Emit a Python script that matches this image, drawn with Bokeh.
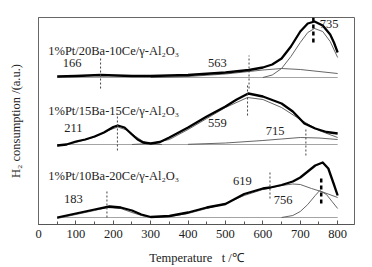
from bokeh.plotting import figure
from bokeh.models import Range1d, SingleIntervalTicker, FixedTicker
from bokeh.core.properties import value
from bokeh.embed import file_html
from bokeh.resources import INLINE

FONT = "Liberation Serif"

# ---------------- data (temperature in °C, H2 consumption in a.u.) ----------------
sample_names = ["1%Pt/20Ba-10Ce/γ-Al₂O₃", "1%Pt/15Ba-15Ce/γ-Al₂O₃", "1%Pt/10Ba-20Ce/γ-Al₂O₃"]

# 1%Pt/20Ba-10Ce (top)
t_top = [50, 100, 166, 250, 300, 400, 500, 563, 600, 625, 650, 675, 700, 720, 738, 760, 780, 790, 800]
h_top = [148, 148.5, 149.5, 148.5, 148.5, 149.5, 152, 154.5, 157, 160, 166, 178, 193, 201, 203, 199, 190, 182, 172]
base_top = 147
t_top_c1 = [300, 400, 500, 563, 600, 650, 700, 750, 800]
h_top_c1 = [147, 148, 150.5, 153, 154.5, 156, 155, 153, 151]
t_top_c2 = [600, 625, 650, 675, 700, 720, 738, 760, 780, 800]
h_top_c2 = [147, 149.5, 156, 168, 182, 192, 196, 193, 183, 167]
peaks_top = [166, 563, 735]

# 1%Pt/15Ba-15Ce (middle)
t_mid = [50, 75, 100, 125, 150, 175, 200, 212, 230, 250, 265, 280, 300, 325, 350, 400, 450, 500, 530, 561, 600, 650, 680, 711, 740, 770, 800]
h_mid = [79, 80, 83, 85, 88, 92, 97.5, 99, 97, 90, 85, 82, 81, 82.5, 87, 97, 108, 118, 125, 131, 128, 121, 113, 101, 96, 92.5, 91]
base_mid = 80
t_mid_c1 = [50, 100, 150, 190, 212, 240, 260, 280, 300, 330]
h_mid_c1 = [78.5, 82, 87.5, 94.5, 97.5, 94, 88, 83, 80.5, 80]
t_mid_c2 = [250, 300, 350, 400, 450, 500, 559, 600, 650, 700, 750, 800]
h_mid_c2 = [80, 81, 85, 95, 106, 117, 127, 125, 117, 105, 94, 87]
t_mid_c3 = [400, 500, 600, 650, 700, 750, 800]
h_mid_c3 = [80.2, 81.5, 84, 85.5, 87, 86.5, 85]
peaks_mid = [211, 559, 715]

# 1%Pt/10Ba-20Ce (bottom)
t_bot = [50, 100, 150, 190, 220, 250, 275, 300, 350, 400, 450, 500, 550, 600, 620, 650, 680, 700, 720, 740, 760, 775, 790, 800]
h_bot = [7, 11, 15, 18, 17, 14, 10, 7.5, 8.5, 12, 17, 20.5, 30.5, 36, 37, 39.5, 43, 47, 53, 59, 62, 56, 40, 29]
base_bot = 7
t_bot_c1 = [50, 100, 150, 183, 220, 250, 280, 310]
h_bot_c1 = [6, 10, 14, 17, 16, 12, 8.5, 7]
t_bot_c2 = [300, 350, 400, 450, 500, 550, 600, 650, 680, 700, 730, 760, 800]
h_bot_c2 = [7, 8, 11, 16, 21, 29, 35, 39, 40.5, 40, 36, 32.5, 27]
t_bot_c3 = [650, 680, 700, 720, 740, 752, 770, 785, 800]
h_bot_c3 = [7, 9, 13, 20, 29, 34, 30, 23, 16]
peaks_bot = [183, 619, 756]

x_ticks_interval = 100

# ---------------- figure ----------------
p = figure(width=372, height=267, output_backend="svg", toolbar_location=None,
           x_range=Range1d(0, 845), y_range=Range1d(0, 207),
           min_border_left=38, min_border_right=18, min_border_top=17, min_border_bottom=43)
p.background_fill_color = "white"
p.border_fill_color = "white"
p.outline_line_color = "#666666"
p.outline_line_width = 1
p.grid.visible = False

p.xaxis.ticker = SingleIntervalTicker(interval=x_ticks_interval, num_minor_ticks=2)
p.xaxis.major_tick_in = 4
p.xaxis.major_tick_out = 0
p.xaxis.minor_tick_in = 3
p.xaxis.minor_tick_out = 0
p.xaxis.axis_line_color = "#555555"
p.xaxis.major_tick_line_color = "#555555"
p.xaxis.minor_tick_line_color = "#555555"
p.xaxis.major_label_text_font = FONT
p.xaxis.major_label_text_font_size = "12.5px"
p.xaxis.major_label_text_color = "#222222"
p.xaxis.major_label_standoff = 5
p.xaxis.axis_label = "Temperature\u00a0\u00a0\u00a0t\u00a0/℃"
p.xaxis.axis_label_text_font = FONT
p.xaxis.axis_label_text_font_style = "normal"
p.xaxis.axis_label_text_font_size = "12.5px"
p.xaxis.axis_label_text_color = "#222222"
p.xaxis.axis_label_standoff = 10

p.yaxis.ticker = FixedTicker(ticks=[])
p.yaxis.major_tick_line_color = None
p.yaxis.minor_tick_line_color = None
p.yaxis.axis_line_color = "#666666"
p.yaxis.axis_label = "H₂ consumption /(a.u.)"
p.yaxis.axis_label_text_font = FONT
p.yaxis.axis_label_text_font_style = "normal"
p.yaxis.axis_label_text_font_size = "12.5px"
p.yaxis.axis_label_text_color = "#222222"
p.yaxis.axis_label_standoff = 16

comp_color = "#555555"
base_color = "#9a9a9a"

curves = [
    (t_top, h_top, base_top, [(t_top_c1, h_top_c1), (t_top_c2, h_top_c2)]),
    (t_mid, h_mid, base_mid, [(t_mid_c1, h_mid_c1), (t_mid_c2, h_mid_c2), (t_mid_c3, h_mid_c3)]),
    (t_bot, h_bot, base_bot, [(t_bot_c1, h_bot_c1), (t_bot_c2, h_bot_c2), (t_bot_c3, h_bot_c3)]),
]
for t, h, base, comps in curves:
    p.line([t[0], t[-1]], [base, base], line_color=base_color, line_width=0.9)
    for tc, hc in comps:
        p.line(tc, hc, line_color=comp_color, line_width=0.9)
    p.line(t, h, line_color="black", line_width=2.3, line_join="round")

# peak markers: (temperature, y from, y to, thick?)
marker_spans = [
    (peaks_top[0], 136, 167, False), (peaks_top[1], 136, 169, False), (peaks_top[2], 182, 207, True),
    (peaks_mid[0], 74, 111, False), (peaks_mid[1], 109, 139, False), (peaks_mid[2], 69, 97, False),
    (peaks_bot[0], 7, 34, False), (peaks_bot[1], 26, 54, False), (peaks_bot[2], 21, 46, True),
]
for x, y0, y1, thick in marker_spans:
    if thick:
        p.line([x, x], [y0, y1], line_color="black", line_width=2.5, line_dash="4 3")
    else:
        p.line([x, x], [y0, y1], line_color="#444444", line_width=1, line_dash="2 2")

# peak labels: positions
peak_label_pos = [
    (peaks_top[0], 90, 162), (peaks_top[1], 478, 162), (peaks_top[2], 777, 201),
    (peaks_mid[0], 93, 97), (peaks_mid[1], 478, 102), (peaks_mid[2], 633, 94),
    (peaks_bot[0], 93, 26), (peaks_bot[1], 545, 44), (peaks_bot[2], 654, 25),
]
p.text(x=[q[1] for q in peak_label_pos], y=[q[2] for q in peak_label_pos],
       text=[str(q[0]) for q in peak_label_pos],
       text_font=value(FONT), text_font_size=value("12.5px"), text_color="#222222",
       text_align="center", text_baseline="middle")

p.text(x=[26, 26, 26], y=[174, 114, 49], text=sample_names,
       text_font=value(FONT), text_font_size=value("12.5px"), text_color="#222222",
       text_align="left", text_baseline="middle")

open("out.html", "w").write(file_html(p, INLINE))
